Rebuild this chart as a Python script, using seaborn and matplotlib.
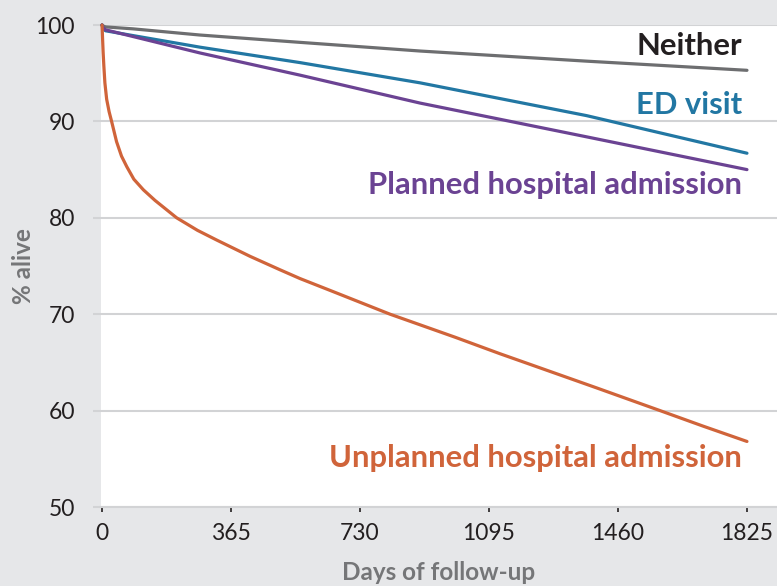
import matplotlib
matplotlib.use("Agg")
import matplotlib.pyplot as plt
import seaborn as sns
import pandas as pd

days_other = [0, 3, 10, 88, 277, 560, 900, 1371, 1825]
neither = [100, 99.9, 99.8, 99.6, 98.96, 98.2, 97.3, 96.25, 95.3]
ed_visit = [100, 99.6, 99.4, 98.9, 97.7, 96.1, 94.0, 90.6, 86.7]
planned = [100, 99.7, 99.5, 98.8, 97.1, 94.8, 91.9, 88.4, 85.0]

days_unplanned = [0, 1, 3, 5, 8, 13, 20, 27, 41, 55, 70, 90, 117, 150, 211, 270, 324,
                  419, 504, 560, 650, 815, 1000, 1126, 1211, 1400, 1579, 1700, 1825]
unplanned = [100, 99.0, 97.2, 95.8, 94.0, 92.3, 91.0, 90.0, 87.9, 86.4, 85.3, 84.0, 82.9,
             81.8, 80.0, 78.7, 77.7, 76.0, 74.6, 73.7, 72.4, 70.0, 67.6, 65.9, 64.8, 62.35,
             60.0, 58.4, 56.8]

series_names = ["Neither", "ED visit", "Planned hospital admission", "Unplanned hospital admission"]
series_colors = ["#6d6e70", "#2277a3", "#6b4393", "#d0643a"]
label_colors = ["#231f20", "#2277a3", "#6b4393", "#d0643a"]
label_y = [97.8, 91.7, 83.4, 55.1]
x_ticks = [0, 365, 730, 1095, 1460, 1825]
y_ticks = [50, 60, 70, 80, 90, 100]

rows = []
for name, dd, vals in zip(series_names,
                          [days_other, days_other, days_other, days_unplanned],
                          [neither, ed_visit, planned, unplanned]):
    for d, v in zip(dd, vals):
        rows.append({"day": d, "alive": v, "group": name})
df = pd.DataFrame(rows)

sns.set_theme(style="white")
plt.rcParams["font.family"] = ["Lato", "DejaVu Sans"]

fig = plt.figure(figsize=(7.77, 5.86), dpi=100)
fig.patch.set_facecolor("#e6e7e9")
ax = fig.add_axes([101 / 777, 1 - 507 / 586, 676 / 777, 482 / 586])
ax.set_facecolor("white")

sns.lineplot(data=df, x="day", y="alive", hue="group", hue_order=series_names,
             palette=dict(zip(series_names, series_colors)), linewidth=2.3,
             legend=False, ax=ax, clip_on=False, zorder=3)

ax.set_xlim(-3, 1910)
ax.set_ylim(50, 100)
ax.set_xticks(x_ticks)
ax.set_yticks(y_ticks)
ax.set_xticklabels([str(t) for t in x_ticks])
ax.set_yticklabels([str(t) for t in y_ticks])
ax.grid(axis="y", color="#d2d3d5", linewidth=1.5, zorder=0)
ax.grid(axis="x", visible=False)
for s in ["left", "right", "top"]:
    ax.spines[s].set_visible(False)
ax.spines["bottom"].set_color("#d2d3d5")
ax.spines["bottom"].set_linewidth(1.5)
ax.tick_params(axis="y", length=5.8, width=1.5, color="#d2d3d5", labelsize=16.5,
               labelcolor="#231f20", pad=13, left=True)
ax.tick_params(axis="x", length=3.5, width=1.2, color="#231f20", labelsize=16.5,
               labelcolor="#231f20", pad=8, bottom=True)

ax.set_xlabel("Days of follow-up", fontsize=17.5, fontweight="bold", color="#757678", labelpad=12)
ax.set_ylabel("% alive", fontsize=17.5, fontweight="bold", color="#757678", labelpad=0)

for name, c, yv in zip(series_names, label_colors, label_y):
    ax.text(1810, yv, name, color=c, fontsize=22.3, fontweight="bold", ha="right", va="center")

fig.savefig("out.png", dpi=100, facecolor=fig.get_facecolor())
